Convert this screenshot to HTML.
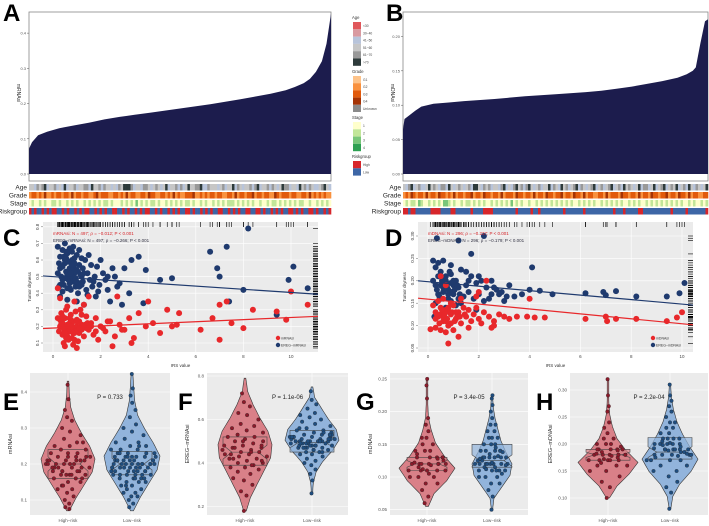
<!DOCTYPE html>
<html><head><meta charset="utf-8"><style>
html,body{margin:0;padding:0;background:#fff;}
svg{display:block;font-family:"Liberation Sans",sans-serif;}
</style></head><body>
<svg id="fig" width="709" height="526" viewBox="0 0 709 526" xmlns="http://www.w3.org/2000/svg"></svg>
<script>
// ---------- DATA ----------
const waterA_frac=[0,0.01,0.03,0.06,0.1,0.15,0.2,0.25,0.3,0.35,0.4,0.45,0.5,0.55,0.6,0.65,0.7,0.75,0.8,0.85,0.88,0.91,0.93,0.95,0.97,0.985,1];
const waterA_val=[0.072,0.09,0.11,0.12,0.13,0.138,0.146,0.155,0.162,0.168,0.174,0.18,0.186,0.192,0.198,0.205,0.212,0.22,0.228,0.238,0.247,0.258,0.27,0.29,0.32,0.37,0.455];
const waterB_frac=[0,0.005,0.02,0.04,0.06,0.1,0.15,0.2,0.3,0.4,0.5,0.6,0.65,0.7,0.75,0.8,0.85,0.9,0.93,0.95,0.96,0.975,0.99,1];
const waterB_val=[0.065,0.08,0.085,0.092,0.098,0.102,0.104,0.106,0.109,0.113,0.116,0.119,0.121,0.124,0.127,0.131,0.135,0.14,0.145,0.15,0.155,0.19,0.222,0.225];
const ageA="44354563445343634453445536445354434354666534435543454346344535346445563354443453446354344535634453543465534436453543345643";
const gradeA="23323242232332332423323322342333223323242332233243322332324232233342232323323322332423323342332332243233323322332423232322";
const stageA="12112121122121121212112121212122121112121213121212212112121212122121121211212121222121212121121121221212121212211211212121";
const riskA="HLHLLHLHLHHLLHLHLLHLHLHHLLHLHLHLLHHLLHLHLLHLHLHHLLHLHLLHLHLHLLHHLHLLHLHLHLLHHLLHLHLHLLHHLLHHLHLLHLHLHLLHHLHLHLLHHLHLLHLH";
const ageB="43563453346454355364345434536643545344356343564535643453446354364534563543456345345634536454346355346345634546345364354346";
const gradeB="23243233242332433232423323342332433233242333243323324233243323342332433242332233242333243323324233243323342332433242332233";
const stageB="12122132112121213321211212212121211212121213121211211212121212121212112121212112121212121121212112121212121212121121211212";
const riskB="HHLHHLLLLLLHHHHLLLLHHLLLLLLHLLLLHHHHLLLLLLLLLHLLLLLHLLHLLLLLLLLLHLLLLLLLHLLLLLLLLLLLHLLLHLLLLLHHLLLLLLLLLLLHLLLLLHLLLLLLLH";

const cBlueX=[0.3,0.4,0.5,0.6,0.7,0.8,0.9,1.0,1.1,1.2,0.35,0.45,0.55,0.65,0.75,0.85,0.95,1.05,1.15,1.25,1.35,1.45,1.55,1.65,1.75,1.85,1.95,2.1,2.2,2.3,2.5,2.6,2.8,3.0,3.2,3.3,3.6,3.9,4.5,5.0,0.2,0.3,0.6,1.0,1.3,1.8,2.4,2.9,3.8,6.6,6.9,7.0,7.3,7.4,8.2,8.0,9.4,9.9,10.1,10.7,0.5,0.7,0.9,1.1,0.4,0.8,1.6,2.0,0.25,1.4,0.6,0.9,1.2,0.5,0.3,1.0,0.8,0.4,0.7,1.5,0.25,0.45,0.65,0.85,1.05,1.25,0.35,0.55,0.75,0.95,1.15,0.3,0.5,0.7,0.9,1.1,1.3,0.4,0.6,0.8,1.0,1.2,1.7,1.9,2.3,2.7,0.2,0.55,0.85,1.45];
const cBlueY=[0.62,0.66,0.58,0.64,0.55,0.6,0.52,0.63,0.57,0.5,0.5,0.45,0.53,0.48,0.42,0.47,0.44,0.4,0.46,0.55,0.6,0.52,0.48,0.44,0.5,0.56,0.45,0.52,0.48,0.42,0.55,0.5,0.46,0.55,0.4,0.6,0.62,0.54,0.48,0.49,0.68,0.38,0.36,0.35,0.33,0.38,0.35,0.33,0.34,0.65,0.55,0.5,0.68,0.35,0.79,0.42,0.27,0.48,0.56,0.43,0.7,0.67,0.61,0.66,0.56,0.5,0.57,0.6,0.44,0.42,0.51,0.57,0.61,0.6,0.55,0.47,0.65,0.48,0.43,0.63,0.58,0.62,0.59,0.55,0.53,0.47,0.56,0.61,0.52,0.49,0.51,0.45,0.49,0.46,0.58,0.44,0.52,0.41,0.43,0.57,0.54,0.45,0.47,0.41,0.5,0.44,0.52,0.65,0.68,0.39];
const cRedX=[0.3,0.4,0.5,0.6,0.7,0.8,0.9,1.0,1.1,1.2,1.3,1.4,1.5,0.35,0.45,0.55,0.65,0.75,0.85,0.95,1.05,1.15,1.6,1.7,1.8,1.9,2.0,2.2,2.4,2.6,2.8,3.0,3.2,3.4,3.6,3.9,4.2,4.5,4.8,5.0,5.2,0.2,0.3,1.5,2.7,4.0,5.3,6.2,6.7,7.0,7.0,7.3,7.5,8.0,8.4,9.4,9.8,10.0,10.7,2.5,1.0,0.6,0.9,1.3,0.5,3.3,0.4,0.7,1.0,1.2,0.6,0.8,0.5,1.1,0.9,0.3,1.4,0.7,0.25,0.45,0.65,0.85,1.05,1.25,0.35,0.55,0.75,0.95,1.15,0.4,0.6,0.8,1.0,1.2,1.35,0.5,0.7,0.9,1.1,1.6,1.8,2.1,2.3,0.2,0.55,0.85,1.45,2.9];
const cRedY=[0.2,0.15,0.25,0.18,0.22,0.13,0.19,0.24,0.16,0.21,0.14,0.26,0.18,0.28,0.1,0.3,0.12,0.27,0.09,0.29,0.11,0.3,0.22,0.15,0.25,0.12,0.2,0.17,0.23,0.14,0.21,0.18,0.25,0.13,0.28,0.2,0.22,0.16,0.3,0.2,0.21,0.43,0.37,0.38,0.38,0.35,0.28,0.18,0.25,0.12,0.33,0.35,0.22,0.19,0.3,0.29,0.24,0.41,0.33,0.08,0.07,0.32,0.35,0.33,0.08,0.1,0.22,0.17,0.2,0.27,0.21,0.2,0.17,0.23,0.16,0.24,0.19,0.2,0.17,0.19,0.21,0.23,0.18,0.2,0.22,0.15,0.24,0.17,0.19,0.26,0.14,0.2,0.23,0.18,0.21,0.16,0.25,0.12,0.19,0.2,0.17,0.19,0.23,0.25,0.13,0.16,0.22,0.18];
const cBlueLine=[0.50,0.395], cRedLine=[0.19,0.26];

const dBlueX=[0.2,0.3,0.4,0.5,0.6,0.7,0.8,0.9,1.0,1.1,1.2,1.3,1.4,1.5,1.6,1.7,1.8,1.9,2.0,2.1,2.2,2.3,2.4,2.5,2.6,2.7,2.9,3.1,3.2,3.4,3.7,4.0,4.1,4.4,4.9,0.3,0.5,0.7,0.9,1.1,1.3,0.4,0.6,0.8,1.0,0.25,1.7,1.2,0.35,2.2,6.2,6.9,7.0,7.4,8.2,9.4,9.9,10.1,0.6,0.9,1.5,2.0,2.5,0.2,1.9,0.5,0.7,1.0,0.4,0.8,0.35,0.55,0.75,0.95,1.15,0.45,0.65,0.85,1.05,1.25,0.3,0.6,0.9,1.2,1.6,2.8,3.0];
const dBlueY=[0.245,0.23,0.21,0.22,0.19,0.2,0.18,0.215,0.17,0.2,0.185,0.225,0.165,0.19,0.175,0.21,0.16,0.195,0.17,0.2,0.155,0.185,0.16,0.17,0.185,0.18,0.175,0.165,0.19,0.165,0.17,0.18,0.23,0.178,0.17,0.15,0.16,0.14,0.155,0.145,0.15,0.17,0.175,0.16,0.19,0.12,0.26,0.29,0.295,0.3,0.172,0.175,0.168,0.177,0.165,0.165,0.172,0.195,0.245,0.235,0.22,0.21,0.2,0.2,0.135,0.19,0.21,0.2,0.24,0.17,0.18,0.2,0.185,0.175,0.19,0.165,0.205,0.22,0.18,0.17,0.19,0.185,0.195,0.16,0.2,0.17,0.155];
const dRedX=[0.2,0.3,0.4,0.5,0.6,0.7,0.8,0.9,1.0,1.1,1.2,1.3,1.4,1.5,1.6,1.7,1.8,1.9,2.0,2.2,2.4,2.6,2.8,3.0,3.2,3.5,3.9,4.2,4.6,0.3,0.5,0.7,1.0,1.2,0.8,0.1,1.6,2.5,0.4,0.6,0.9,1.3,0.5,0.7,2.3,2.0,1.9,4.0,6.2,7.0,7.05,7.4,8.2,9.4,9.8,10.0,0.3,0.5,0.7,0.9,1.1,0.6,0.8,0.35,0.55,0.75,0.95,1.15,0.45,0.65,0.85,1.05,1.25,1.45,2.1,2.6];
const dRedY=[0.145,0.13,0.12,0.14,0.11,0.135,0.1,0.125,0.145,0.115,0.13,0.105,0.14,0.12,0.135,0.11,0.125,0.14,0.115,0.13,0.12,0.1,0.125,0.12,0.115,0.12,0.12,0.118,0.118,0.095,0.09,0.085,0.09,0.075,0.06,0.092,0.095,0.095,0.155,0.16,0.15,0.16,0.21,0.19,0.2,0.175,0.165,0.16,0.115,0.12,0.11,0.115,0.115,0.11,0.118,0.13,0.115,0.125,0.11,0.105,0.13,0.12,0.14,0.125,0.135,0.115,0.13,0.12,0.105,0.125,0.13,0.11,0.12,0.125,0.105,0.11];
const dBlueLine=[0.198,0.146], dRedLine=[0.159,0.102];

const eHighPts=[0.08,0.09,0.1,0.11,0.12,0.13,0.13,0.14,0.15,0.15,0.16,0.16,0.17,0.17,0.17,0.18,0.18,0.18,0.19,0.19,0.19,0.19,0.2,0.2,0.2,0.2,0.21,0.21,0.21,0.21,0.22,0.22,0.22,0.23,0.23,0.24,0.24,0.25,0.25,0.26,0.27,0.28,0.29,0.3,0.32,0.33,0.35,0.38,0.42,0.075,0.17,0.2,0.22,0.19,0.16,0.23,0.21,0.18,0.14,0.26,0.2,0.19,0.21,0.18,0.22,0.17];
const eLowPts=[0.08,0.09,0.1,0.11,0.11,0.12,0.12,0.13,0.13,0.14,0.14,0.15,0.15,0.15,0.16,0.16,0.16,0.17,0.17,0.17,0.17,0.18,0.18,0.18,0.18,0.19,0.19,0.19,0.19,0.19,0.2,0.2,0.2,0.2,0.2,0.21,0.21,0.21,0.21,0.22,0.22,0.22,0.22,0.23,0.23,0.23,0.24,0.24,0.24,0.25,0.25,0.26,0.26,0.27,0.28,0.29,0.3,0.31,0.33,0.35,0.37,0.39,0.41,0.45,0.2,0.19,0.21,0.18,0.22,0.17,0.2,0.23,0.16,0.21,0.19,0.25,0.14,0.2,0.22,0.18,0.2,0.19,0.21,0.18,0.22,0.17,0.2,0.23,0.16,0.21];
const fHighPts=[0.18,0.25,0.27,0.3,0.32,0.33,0.35,0.36,0.37,0.38,0.38,0.39,0.4,0.4,0.41,0.42,0.42,0.43,0.43,0.44,0.44,0.45,0.45,0.46,0.46,0.47,0.47,0.48,0.48,0.49,0.5,0.5,0.51,0.52,0.52,0.53,0.54,0.55,0.56,0.57,0.58,0.6,0.62,0.63,0.66,0.68,0.72,0.45,0.42,0.48,0.5,0.44,0.39,0.47,0.41];
const fLowPts=[0.26,0.32,0.35,0.37,0.39,0.4,0.41,0.42,0.43,0.44,0.44,0.45,0.45,0.46,0.46,0.47,0.47,0.47,0.48,0.48,0.48,0.49,0.49,0.49,0.5,0.5,0.5,0.5,0.51,0.51,0.51,0.52,0.52,0.52,0.53,0.53,0.54,0.54,0.55,0.55,0.56,0.57,0.58,0.59,0.6,0.61,0.62,0.63,0.65,0.67,0.69,0.73,0.5,0.49,0.51,0.48,0.52,0.5,0.47,0.53,0.46,0.5,0.54,0.49,0.51,0.48,0.56,0.45,0.5,0.52,0.5,0.49,0.51,0.48,0.52,0.5,0.47,0.53];
const gHighPts=[0.06,0.07,0.08,0.09,0.09,0.1,0.1,0.1,0.11,0.11,0.11,0.11,0.12,0.12,0.12,0.12,0.12,0.12,0.13,0.13,0.13,0.13,0.14,0.14,0.14,0.15,0.15,0.16,0.16,0.17,0.18,0.19,0.22,0.24,0.25,0.115,0.125,0.105,0.135,0.12,0.11,0.13,0.118,0.122,0.128,0.112];
const gLowPts=[0.05,0.07,0.08,0.09,0.09,0.1,0.1,0.1,0.11,0.11,0.11,0.11,0.12,0.12,0.12,0.12,0.12,0.12,0.13,0.13,0.13,0.13,0.13,0.14,0.14,0.14,0.14,0.15,0.15,0.15,0.16,0.16,0.16,0.17,0.17,0.18,0.18,0.19,0.2,0.21,0.22,0.225,0.115,0.125,0.105,0.135,0.12,0.11,0.13,0.14,0.12,0.125,0.145,0.115,0.118,0.122,0.128,0.132,0.112,0.138];
const hHighPts=[0.1,0.12,0.13,0.14,0.15,0.15,0.16,0.16,0.16,0.17,0.17,0.17,0.17,0.18,0.18,0.18,0.18,0.18,0.19,0.19,0.19,0.19,0.2,0.2,0.2,0.21,0.21,0.22,0.23,0.24,0.26,0.27,0.29,0.32,0.175,0.185,0.18,0.17,0.19,0.18,0.165,0.195,0.178,0.182,0.188,0.172];
const hLowPts=[0.08,0.11,0.12,0.13,0.14,0.15,0.15,0.16,0.16,0.17,0.17,0.17,0.18,0.18,0.18,0.18,0.19,0.19,0.19,0.19,0.2,0.2,0.2,0.2,0.21,0.21,0.21,0.22,0.22,0.23,0.23,0.24,0.24,0.25,0.26,0.27,0.28,0.29,0.31,0.185,0.19,0.18,0.2,0.175,0.195,0.21,0.17,0.19,0.205,0.185,0.188,0.192,0.178,0.198,0.182,0.202];

// ---------- HELPERS ----------
const NS="http://www.w3.org/2000/svg";
const svg=document.getElementById('fig');
function mk(tag,attrs,parent){const e=document.createElementNS(NS,tag);for(const k in attrs)e.setAttribute(k,attrs[k]);(parent||svg).appendChild(e);return e;}
function txt(x,y,s,size,opts,parent){opts=opts||{};const t=mk('text',{x:x,y:y,'font-size':size,fill:opts.fill||'#333','text-anchor':opts.anchor||'start'},parent);if(opts.rot)t.setAttribute('transform','rotate('+opts.rot+' '+x+' '+y+')');if(opts.weight)t.setAttribute('font-weight',opts.weight);t.textContent=s;return t;}
function group(name){const g=mk('g',{});return g;}

// panel letters
[['A',3,21],['B',386,21],['C',3,246],['D',385,246],['E',3,410],['F',178,410],['G',356,410],['H',536,410]].forEach(l=>{
  const t=txt(l[1],l[2],l[0],24,{fill:'#000',weight:'bold'});
  
  
});

// ---------- WATERFALL ----------
const riskCols={H:'#d7262b',L:'#3d66a6'};
const ageCols=['','#e0575b','#d99aa0','#b8c4da','#c6c6c6','#999','#2e3b3b'];
const gradeCols=['','#fdc38a','#f9913e','#e15a0c','#a43305','#8a8a8a'];
const stageCols=['','#ffffcc','#c2e699','#78c679','#2ea052'];
function waterfall(name,x0,x1,yTop,yBase,fr,vals,vmax,ticks,tickFmt,ylab,strips){
  const g=group(name);
  mk('rect',{x:x0,y:yTop,width:x1-x0,height:181-yTop,fill:'#fff',stroke:'#888','stroke-width':0.8},g);
  const ys=v=>yBase-(v/vmax)*(yBase-yTop);
  let d='M'+x0+' '+yBase;
  fr.forEach((f,i)=>{d+=' L'+(x0+f*(x1-x0)).toFixed(1)+' '+ys(vals[i]).toFixed(1);});
  d+=' L'+x1+' '+yBase+' Z';
  const p=mk('path',{d:d,fill:'#1c1c4d'},g);
  
  ticks.forEach(t=>{const y=ys(t);mk('line',{x1:x0-2,x2:x0,y1:y,y2:y,stroke:'#555','stroke-width':0.5},g);txt(x0-3,y+1.5,tickFmt(t),4,{anchor:'end',fill:'#555'},g);});
  txt(x0-12,(yTop+yBase)/2,ylab,5,{rot:90,anchor:'middle',fill:'#333'},g);
  const rows=[['Age',184,strips[0],c=>ageCols[+c]],['Grade',192,strips[1],c=>gradeCols[+c]],['Stage',200,strips[2],c=>stageCols[+c]],['Riskgroup',208,strips[3],c=>riskCols[c]]];
  rows.forEach(r=>{
    const sg=mk('g',{},g);
    const n=r[2].length,w=(x1-x0)/n;
    for(let i=0;i<n;i++)mk('rect',{x:(x0+i*w).toFixed(2),y:r[1],width:(w+0.3).toFixed(2),height:6.5,fill:r[3](r[2][i])},sg);
    txt(x0-2,r[1]+5.5,r[0],6.5,{anchor:'end',fill:'#222'},g);
  });
}
waterfall('panel-a-waterfall',29,331,12,174,waterA_frac,waterA_val,0.46,[0,0.1,0.2,0.3,0.4],t=>t.toFixed(1),'mRNAsi',[ageA,gradeA,stageA,riskA]);
waterfall('panel-b-waterfall',403,708,12,174,waterB_frac,waterB_val,0.2355,[0,0.05,0.1,0.15,0.2],t=>t.toFixed(2),'mDNAsi',[ageB,gradeB,stageB,riskB]);

// legend
(function(){
  const g=group('annotation-legend');
  const secs=[['Age',17,22,['<30','30~40','41~50','51~60','61~70','>70'],ageCols.slice(1),7.3],
              ['Grade',71,76,['G1','G2','G3','G4','Unknown'],gradeCols.slice(1),7.2],
              ['Stage',117,122,['1','2','3','4'],stageCols.slice(1),7.3],
              ['Riskgroup',156,161,['High','Low'],[riskCols.H,riskCols.L],7.3]];
  secs.forEach(s=>{
    txt(352,s[1]+2,s[0],4.2,{fill:'#333'},g);
    s[3].forEach((lab,i)=>{mk('rect',{x:353,y:s[2]+i*s[5],width:8,height:s[5],fill:s[4][i]},g);txt(363,s[2]+i*s[5]+5,lab,3.3,{fill:'#444'},g);});
  });
})();

// ---------- SCATTER ----------
function scatter(name,px0,px1,py0,py1,xZero,xPerUnit,yRef,yRefPix,yPerUnit,yTicks,yFmt,series,lines,xmax,labels,legendLabs){
  const g=group(name);
  mk('rect',{x:px0,y:py0,width:px1-px0,height:py1-py0,fill:'#ebebeb'},g);
  const xs=v=>xZero+v*xPerUnit, ys=v=>yRefPix-(v-yRef)*yPerUnit;
  for(let t=0;t<=10;t+=2){mk('line',{x1:xs(t),x2:xs(t),y1:py0,y2:py1,stroke:'#fff','stroke-width':0.6},g);}
  yTicks.forEach(t=>mk('line',{x1:px0,x2:px1,y1:ys(t),y2:ys(t),stroke:'#fff','stroke-width':0.6},g));
  const rug=mk('g',{},g);
  series.forEach(s=>{s.x.forEach(v=>mk('line',{x1:xs(v),x2:xs(v),y1:py0,y2:py0+5,stroke:'#000','stroke-width':0.6},rug));
    s.y.forEach(v=>mk('line',{x1:px1-5,x2:px1,y1:ys(v),y2:ys(v),stroke:'#000','stroke-width':0.6},rug));});
  series.forEach(s=>{const sg=mk('g',{},g);
    s.x.forEach((v,i)=>mk('circle',{cx:xs(v).toFixed(1),cy:ys(s.y[i]).toFixed(1),r:3,fill:s.col},sg));});
  lines.forEach(l=>{const ln=mk('line',{x1:px0,y1:ys(l.v[0]+(l.v[1]-l.v[0])*((px0-xZero)/xPerUnit)/xmax),x2:px1,y2:ys(l.v[0]+(l.v[1]-l.v[0])*((px1-xZero)/xPerUnit)/xmax),stroke:l.col,'stroke-width':1.2},g);});
  yTicks.forEach(t=>{txt(px0-4,ys(t),yFmt(t),4.5,{rot:-90,anchor:'middle',fill:'#444'},g);mk('line',{x1:px0-2,x2:px0,y1:ys(t),y2:ys(t),stroke:'#444','stroke-width':0.4},g);});
  for(let t=0;t<=10;t+=2){txt(xs(t),py1+6,String(t),4.5,{anchor:'middle',fill:'#444'},g);}
  txt((px0+px1)/2,py1+15,'IRS value',4.5,{anchor:'middle',fill:'#333'},g);
  txt(px0-12,(py0+py1)/2,'Tumor dryness',4.5,{rot:-90,anchor:'middle',fill:'#333'},g);
  txt(xZero,py0+13,labels[0],4.5,{fill:'#d7262b'},g);
  txt(xZero,py0+20,labels[1],4.5,{fill:'#334'},g);
  const lg=mk('g',{},g);
  mk('circle',{cx:px1-40,cy:py1-14,r:2.2,fill:'#e8282b'},lg);txt(px1-37,py1-12.5,legendLabs[0],3.5,{fill:'#333'},lg);
  mk('circle',{cx:px1-40,cy:py1-7,r:2.2,fill:'#1f3a6e'},lg);txt(px1-37,py1-5.5,legendLabs[1],3.5,{fill:'#333'},lg);
}
scatter('panel-c-scatter',43,318,222,352,53,23.8,0.1,343,166,[0.1,0.2,0.3,0.4,0.5,0.6,0.7,0.8],t=>t.toFixed(1),
  [{name:'series-ereg-mrnasi',x:cBlueX,y:cBlueY,col:'#1f3a6e'},{name:'series-mrnasi',x:cRedX,y:cRedY,col:'#e8282b'}],
  [{name:'trend-ereg-mrnasi',v:cBlueLine,col:'#1f3a6e'},{name:'trend-mrnasi',v:cRedLine,col:'#e8282b'}],11,
  ['mRNAsi: N = 497; ρ = −0.012; P < 0.001','EREG−mRNAsi: N = 497; ρ = −0.266; P < 0.001'],['mRNAsi','EREG−mRNAsi']);
scatter('panel-d-scatter',418,693,222,352,428,25.4,0.05,348,448,[0.05,0.1,0.15,0.2,0.25,0.3],t=>t.toFixed(2),
  [{name:'series-ereg-mdnasi',x:dBlueX,y:dBlueY,col:'#1f3a6e'},{name:'series-mdnasi',x:dRedX,y:dRedY,col:'#e8282b'}],
  [{name:'trend-ereg-mdnasi',v:dBlueLine,col:'#1f3a6e'},{name:'trend-mdnasi',v:dRedLine,col:'#e8282b'}],10.4,
  ['mDNAsi: N = 296; ρ = −0.237; P < 0.001','EREG−mDNAsi: N = 296; ρ = −0.179; P < 0.001'],['mDNAsi','EREG−mDNAsi']);

// ---------- VIOLINS ----------
function violin(name,px0,px1,yRef,yRefPix,yPerUnit,yTicks,yFmt,ylab,pval,groups){
  const g=group(name);
  const py0=373,py1=515;
  mk('rect',{x:px0,y:py0,width:px1-px0,height:py1-py0,fill:'#ebebeb'},g);
  const ys=v=>yRefPix-(v-yRef)*yPerUnit;
  yTicks.forEach(t=>{mk('line',{x1:px0,x2:px1,y1:ys(t),y2:ys(t),stroke:'#fff','stroke-width':0.6},g);txt(px0-3,ys(t)+1.5,yFmt(t),4.5,{anchor:'end',fill:'#555'},g);});
  txt(px0-18,(py0+py1)/2,ylab,5.5,{rot:-90,anchor:'middle',fill:'#333'},g);
  groups.forEach(gr=>{
    mk('line',{x1:gr.cx,x2:gr.cx,y1:py0,y2:py1,stroke:'#fff','stroke-width':0.6},g);
    const sg=mk('g',{},g);
    const n=gr.dens.length, step=(gr.max-gr.min)/(n-1);
    const wAt=v=>{const f=(v-gr.min)/step;const i=Math.max(0,Math.min(n-2,Math.floor(f)));const r=f-i;return (gr.dens[i]*(1-r)+gr.dens[i+1]*r)*gr.hw;};
    let L=[],R=[];
    for(let k=0;k<=40;k++){const v=gr.min+(gr.max-gr.min)*k/40;const w=Math.max(0.8,wAt(v));L.push((gr.cx-w).toFixed(1)+' '+ys(v).toFixed(1));R.unshift((gr.cx+w).toFixed(1)+' '+ys(v).toFixed(1));}
    mk('path',{d:'M'+L.join(' L')+' L'+R.join(' L')+' Z',fill:gr.fill,stroke:'#333','stroke-width':0.6},sg);
    const bw=gr.bw, nt=(gr.q3-gr.q1)*0.25;
    const b=[[gr.cx-bw,gr.q3],[gr.cx+bw,gr.q3],[gr.cx+bw,gr.med+nt],[gr.cx+bw*0.6,gr.med],[gr.cx+bw,gr.med-nt],[gr.cx+bw,gr.q1],[gr.cx-bw,gr.q1],[gr.cx-bw,gr.med-nt],[gr.cx-bw*0.6,gr.med],[gr.cx-bw,gr.med+nt]];
    mk('path',{d:'M'+b.map(p=>p[0].toFixed(1)+' '+ys(p[1]).toFixed(1)).join(' L')+' Z',fill:gr.fill,'fill-opacity':0.7,stroke:'#444','stroke-width':0.6},sg);
    mk('line',{x1:gr.cx-bw*0.6,x2:gr.cx+bw*0.6,y1:ys(gr.med),y2:ys(gr.med),stroke:'#444','stroke-width':0.6},sg);
    gr.pts.forEach((v,i)=>{const w=wAt(v)*0.85;const j=(((i*37)%23)/11-1);mk('circle',{cx:(gr.cx+j*w).toFixed(1),cy:ys(v).toFixed(1),r:1.8,fill:gr.pc,stroke:'#222','stroke-width':0.3},sg);});
    txt(gr.cx,py1+7,gr.label,4.5,{anchor:'middle',fill:'#555'},g);
  });
  txt((px0+px1)/2+10,py0+26,pval,6,{anchor:'middle',fill:'#222'},g);
}
const hiFill='#d98088',loFill='#92b4dc',hiPt='#8b1a2a',loPt='#1f4e80';
violin('panel-e-violin',30,170,0.2,464,360,[0.1,0.2,0.3,0.4],t=>t.toFixed(1),'mRNAsi','P = 0.733',[
 {name:'violin-high-risk',label:'High−risk',cx:68,min:0.07,max:0.43,dens:[0.05,0.3,0.6,0.9,1.0,0.8,0.5,0.25,0.1,0.05,0.03],hw:27,bw:20,q1:0.16,med:0.2,q3:0.24,pts:eHighPts,fill:hiFill,pc:hiPt},
 {name:'violin-low-risk',label:'Low−risk',cx:132,min:0.07,max:0.45,dens:[0.05,0.3,0.6,0.9,1.0,0.75,0.45,0.2,0.1,0.06,0.03],hw:28,bw:20,q1:0.17,med:0.2,q3:0.235,pts:eLowPts,fill:loFill,pc:loPt}]);
violin('panel-f-violin',207,348,0.4,463,217.5,[0.2,0.4,0.6,0.8],t=>t.toFixed(1),'EREG−mRNAsi','P = 1.1e-06',[
 {name:'violin-high-risk',label:'High−risk',cx:245,min:0.18,max:0.79,dens:[0.05,0.2,0.45,0.7,0.95,1.0,0.85,0.55,0.3,0.1,0.03],hw:27,bw:22,q1:0.39,med:0.45,q3:0.52,pts:fHighPts,fill:hiFill,pc:hiPt},
 {name:'violin-low-risk',label:'Low−risk',cx:312,min:0.26,max:0.75,dens:[0.02,0.05,0.15,0.4,0.75,1.0,0.9,0.6,0.35,0.1,0.03],hw:27,bw:22,q1:0.45,med:0.495,q3:0.55,pts:fLowPts,fill:loFill,pc:loPt}]);
violin('panel-g-violin',390,528,0.1,477,654,[0.05,0.1,0.15,0.2,0.25],t=>t.toFixed(2),'mDNAsi','P = 3.4e-05',[
 {name:'violin-high-risk',label:'High−risk',cx:427,min:0.055,max:0.25,dens:[0.05,0.25,0.7,1.0,0.6,0.3,0.15,0.05,0.03,0.03,0.02],hw:28,bw:20,q1:0.11,med:0.12,q3:0.13,pts:gHighPts,fill:hiFill,pc:hiPt},
 {name:'violin-low-risk',label:'Low−risk',cx:492,min:0.05,max:0.225,dens:[0.03,0.1,0.5,0.9,1.0,0.7,0.45,0.3,0.15,0.06,0.03],hw:20,bw:20,q1:0.115,med:0.125,q3:0.15,pts:gLowPts,fill:loFill,pc:loPt}]);
violin('panel-h-violin',570,708,0.1,498,540,[0.1,0.15,0.2,0.25,0.3],t=>t.toFixed(2),'EREG−mDNAsi','P = 2.2e-04',[
 {name:'violin-high-risk',label:'High−risk',cx:608,min:0.1,max:0.32,dens:[0.05,0.3,0.7,1.0,0.6,0.3,0.15,0.06,0.03,0.02,0.02],hw:30,bw:22,q1:0.17,med:0.18,q3:0.19,pts:hHighPts,fill:hiFill,pc:hiPt},
 {name:'violin-low-risk',label:'Low−risk',cx:670,min:0.08,max:0.31,dens:[0.03,0.1,0.35,0.75,1.0,0.7,0.45,0.25,0.12,0.05,0.02],hw:28,bw:22,q1:0.172,med:0.185,q3:0.212,pts:hLowPts,fill:loFill,pc:loPt}]);
</script>
</body></html>
